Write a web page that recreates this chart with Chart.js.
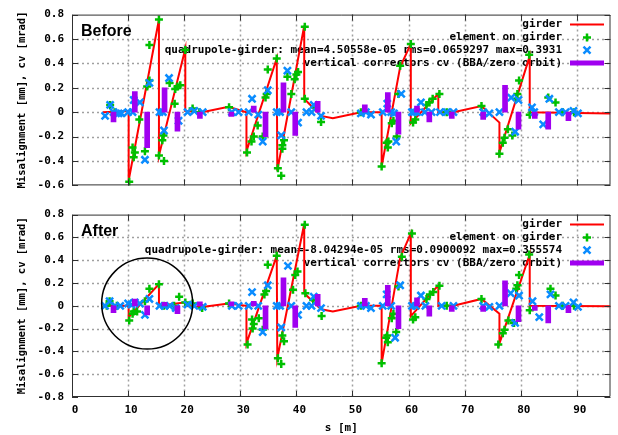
<!DOCTYPE html>
<html>
<head>
<meta charset="utf-8">
<script src="https://cdn.jsdelivr.net/npm/chart.js@4.4.1/dist/chart.umd.min.js"></script>
<style>
  html, body { margin: 0; padding: 0; background: #fff; }
  #wrap { position: relative; width: 618px; height: 435px; }
  #before { position: absolute; left: 0; top: 0; }
  #after { position: absolute; left: 0; top: 200px; }
</style>
</head>
<body>
<div id="wrap">
  <canvas id="before" width="618" height="200"></canvas>
  <canvas id="after" width="618" height="235"></canvas>
</div>
<script>
// axis ticks
const xTickValues = [0, 10, 20, 30, 40, 50, 60, 70, 80, 90];
const beforeYTicks = [-0.6, -0.4, -0.2, 0, 0.2, 0.4, 0.6, 0.8];
const afterYTicks = [-0.8, -0.6, -0.4, -0.2, 0, 0.2, 0.4, 0.6, 0.8];

// girder ends (s [m], misalignment [mm]) - before correction
const beforeGirderS = [5.5, 10.1, 10.1, 15.5, 15.5, 20.2, 20.2, 23.2, 27.9, 31.1, 31.1, 36.5, 36.6, 41.4, 41.4, 44.4, 46.5, 51.5, 55.2, 55.2, 58.5, 60.4, 60.4, 65.3, 65.3, 68.0, 73.0, 76.2, 76.2, 81.6, 81.6, 96];
const beforeGirderV = [0.0, 0.01, -0.56, 0.76, -0.355, 0.52, 0.01, 0.0, 0.045, 0.0, -0.32, 0.44, -0.48, 0.71, 0.11, -0.03, -0.05, 0.0, 0.0, -0.445, 0.37, 0.56, -0.09, 0.15, 0.0, 0.0, 0.05, -0.085, -0.33, 0.46, 0.0, -0.01];

// elements on girder
const beforeElemS = [6.8, 7.6, 10.2, 10.8, 11.2, 11.0, 12.0, 13.0, 13.4, 13.8, 13.8, 15.5, 15.5, 16.1, 16.3, 16.4, 17.4, 18.3, 18.4, 18.8, 19.3, 20.2, 21.5, 22.7, 28.0,
  31.2, 32.0, 32.4, 33.1, 34.0, 34.5, 34.7, 34.9, 36.5, 36.7, 37.3, 37.5, 37.5, 37.8, 38.4, 39.1, 39.7, 40.0, 40.3, 41.5, 41.5, 43.2, 44.4,
  51.5, 55.2, 56.1, 56.3, 56.4, 57.0, 57.3, 57.9, 58.2, 58.5, 60.4, 60.8, 61.2, 63.2, 63.7, 64.3, 65.5, 66.8,
  73.0, 76.2, 76.8, 77.1, 77.7, 78.5, 79.2, 79.4, 79.7, 81.5, 81.6, 84.9, 86.2, 87.5, 89.5];
const beforeElemV = [0.06, 0.0, -0.57, -0.29, -0.33, -0.37, -0.06, -0.32, 0.21, 0.26, 0.55, 0.76, -0.355, -0.23, -0.19, -0.40, 0.24, 0.07, 0.19, 0.21, 0.22, 0.51, 0.03, 0.0, 0.04,
  -0.33, -0.24, -0.2, -0.11, -0.2, 0.12, 0.15, 0.35, 0.44, -0.46, -0.52, -0.27, -0.3, -0.23, 0.29, 0.15, 0.27, 0.31, 0.33, 0.70, 0.11, 0.04, -0.08,
  0.0, -0.445, -0.25, -0.29, -0.24, -0.09, -0.07, -0.2, 0.15, 0.38, 0.56, -0.085, -0.06, 0.06, 0.08, 0.11, 0.15, 0.0,
  0.05, -0.34, -0.25, -0.21, -0.14, -0.19, 0.11, 0.15, 0.26, 0.47, -0.02, 0.12, 0.08, 0.0, 0.0];

// quadrupole-girder offsets
const beforeQuadS = [5.9, 6.8, 7.4, 8.3, 8.8, 10.0, 10.8, 11.0, 12.1, 13.0, 13.8, 15.6, 16.2, 16.4, 17.3, 19.0, 20.6, 21.8, 23.3, 28.5, 29.7,
  31.5, 32.1, 33.2, 34.0, 34.9, 36.5, 37.1, 37.3, 38.4, 39.1, 40.3, 41.8, 42.7, 43.1, 44.4,
  51.5, 52.4, 53.3, 55.4, 56.2, 56.9, 57.4, 57.8, 58.7, 60.6, 61.0, 61.5, 62.2, 62.9, 64.1, 65.6, 66.8, 68.0,
  73.3, 74.4, 76.2, 78.3, 79.0, 79.6, 82.0, 82.4, 84.0, 85.1, 86.8, 88.0, 89.4, 90.2];
const beforeQuadV = [-0.03, 0.06, 0.0, -0.01, -0.01, 0.0, 0.0, 0.1, 0.08, -0.39, 0.24, 0.0, 0.0, -0.15, 0.28, -0.07, 0.0, 0.01, 0.0, 0.0, 0.0,
  0.0, 0.11, -0.02, -0.24, 0.18, 0.0, 0.0, -0.19, 0.34, 0.0, -0.085, 0.0, 0.0, 0.06, -0.03,
  -0.01, 0.0, -0.02, 0.0, 0.07, 0.0, -0.01, -0.24, 0.15, 0.0, 0.0, 0.0, 0.08, 0.0, 0.0, 0.0, 0.0, 0.0,
  0.0, -0.01, 0.0, 0.12, -0.16, 0.1, 0.04, 0.0, -0.1, 0.11, 0.0, 0.0, 0.01, -0.01];

// vertical correctors (same positions before/after)
const correctorS = [7.4, 11.2, 13.4, 16.5, 18.8, 22.8, 28.4, 32.4, 34.5, 37.7, 39.8, 43.8, 52.2, 56.3, 58.2, 61.5, 63.7, 67.7, 73.3, 77.2, 79.6, 82.5, 84.9, 88.5];
const beforeCorrV = [-0.08, 0.17, -0.29, 0.2, -0.155, -0.05, -0.035, 0.05, -0.2, 0.24, -0.19, 0.09, 0.06, 0.16, -0.18, 0.05, -0.08, -0.05, -0.06, 0.22, -0.14, -0.05, -0.14, -0.07];

// after correction
const afterGirderS = [5.5, 10.1, 10.1, 15.5, 15.5, 20.2, 20.2, 23.2, 27.9, 31.1, 31.1, 36.5, 36.6, 41.4, 41.4, 44.4, 46.5, 51.5, 55.2, 55.2, 58.5, 60.4, 60.4, 65.3, 65.3, 68.0, 73.0, 76.2, 76.2, 81.6, 81.6, 96];
const afterGirderV = [0.0, 0.0, -0.1, 0.19, 0.0, 0.03, 0.0, -0.01, 0.02, 0.0, -0.33, 0.44, -0.46, 0.72, 0.11, -0.03, -0.05, 0.0, 0.0, -0.505, 0.42, 0.635, -0.09, 0.18, 0.0, 0.0, 0.06, -0.07, -0.33, 0.45, 0.0, -0.005];

const afterElemS = [6.2, 6.7, 8.0, 10.2, 10.8, 11.0, 11.6, 13.0, 13.8, 15.5, 16.4, 18.2, 19.1, 20.2, 21.5, 23.2, 28.0,
  31.3, 32.1, 32.2, 32.4, 33.3, 34.0, 34.3, 34.6, 34.9, 36.5, 36.7, 37.3, 37.5, 37.8, 39.4, 39.8, 40.2, 41.5, 41.6, 43.0, 44.5,
  51.5, 55.2, 56.0, 56.2, 56.3, 57.0, 57.3, 57.8, 58.2, 58.8, 60.6, 60.8, 61.2, 63.2, 63.8, 64.4, 65.5, 66.8,
  73.0, 76.0, 76.8, 77.1, 77.8, 78.8, 79.2, 79.4, 79.7, 81.5, 81.6, 85.3, 86.2, 87.5, 89.5];
const afterElemV = [0.0, 0.04, 0.0, -0.13, -0.07, -0.05, -0.05, 0.04, 0.15, 0.19, 0.0, 0.0, 0.08, 0.03, 0.02, -0.02, 0.02,
  -0.34, -0.12, -0.2, -0.16, -0.11, -0.21, 0.1, 0.13, 0.36, 0.44, -0.46, -0.51, -0.26, -0.31, 0.14, 0.27, 0.3, 0.71, 0.11, 0.05, -0.09,
  0.0, -0.505, -0.28, -0.26, -0.32, -0.11, -0.07, -0.23, 0.17, 0.43, 0.634, -0.12, -0.1, 0.06, 0.1, 0.12, 0.175, 0.0,
  0.06, -0.34, -0.24, -0.21, -0.13, -0.15, 0.15, 0.18, 0.27, 0.45, -0.04, 0.15, 0.09, 0.0, 0.0];

const afterQuadS = [5.9, 6.7, 7.7, 8.6, 10.0, 10.6, 11.2, 12.1, 13.0, 13.8, 15.6, 16.5, 17.4, 18.5, 20.6, 21.8, 23.3, 28.5, 29.7,
  31.5, 32.1, 33.2, 34.0, 34.9, 36.5, 37.1, 37.3, 38.5, 39.1, 40.3, 41.8, 42.7, 43.1, 44.4,
  51.5, 52.4, 53.3, 55.4, 56.1, 56.9, 57.6, 58.5, 60.6, 61.3, 62.2, 63.0, 65.9, 68.0,
  73.3, 74.4, 76.2, 78.2, 79.0, 79.7, 82.1, 83.3, 85.3, 86.8, 88.0, 89.4, 90.2];
const afterQuadV = [0.0, 0.04, 0.0, 0.0, 0.02, 0.01, 0.03, 0.02, -0.08, 0.06, 0.0, 0.0, 0.0, -0.02, 0.01, 0.0, -0.01, 0.0, 0.0,
  0.0, 0.12, 0.0, -0.23, 0.18, 0.0, 0.0, -0.19, 0.35, 0.0, -0.08, 0.0, 0.0, 0.08, -0.02,
  0.0, 0.0, -0.02, 0.0, 0.1, 0.0, -0.28, 0.18, 0.0, 0.0, 0.09, 0.0, 0.0, 0.0,
  0.0, -0.01, 0.0, 0.11, -0.15, 0.09, 0.04, -0.1, 0.1, 0.0, 0.0, 0.03, -0.01];

const afterCorrV = [-0.06, 0.06, -0.08, 0.03, -0.07, 0.035, 0.035, 0.04, -0.2, 0.245, -0.19, 0.1, 0.065, 0.18, -0.2, 0.07, -0.09, -0.05, -0.05, 0.22, -0.14, -0.04, -0.15, -0.06];

const beforeQuadLabel = 'quadrupole-girder: mean=4.50558e-05 rms=0.0659297 max=0.3931';
const afterQuadLabel = 'quadrupole-girder: mean=-8.04294e-05 rms=0.0900092 max=0.355574';

const RED = '#ff0000';
const GREEN = '#00c000';
const BLUE = '#0a8cff';
const PURPLE = '#a000f0';
const MONO = '"DejaVu Sans Mono", monospace';

function pairs(xs, ys) {
  return xs.map((x, i) => ({x: x, y: ys[i]}));
}

// grid, frame with inward ticks, key and panel label, drawn gnuplot-like
function gnuplotFrame(label, quadLabel, circle) {
  return {
    id: 'gnuplotFrame',
    beforeDatasetsDraw(chart) {
      const {ctx, chartArea: a, scales: {x, y}} = chart;
      ctx.save();
      ctx.strokeStyle = '#a0a0a0';
      ctx.lineWidth = 1.5;
      ctx.setLineDash([2, 3]);
      xTickValues.forEach((v) => {
        if (v <= x.min) return;
        const px = Math.round(x.getPixelForValue(v)) + 0.5;
        ctx.beginPath();
        ctx.moveTo(px, a.top);
        ctx.lineTo(px, a.bottom);
        ctx.stroke();
      });
      y.ticks.forEach((t) => {
        if (t.value <= y.min || t.value >= y.max) return;
        const py = Math.round(y.getPixelForValue(t.value)) + 0.5;
        ctx.beginPath();
        ctx.moveTo(a.left, py);
        ctx.lineTo(a.right, py);
        ctx.stroke();
      });
      ctx.setLineDash([]);

      // panel label
      ctx.fillStyle = '#000';
      ctx.font = 'bold 16px "Liberation Sans", Arial, sans-serif';
      ctx.textAlign = 'left';
      ctx.textBaseline = 'middle';
      ctx.fillText(label, a.left + 9, a.top + 17);

      // key
      const rows = ['girder', 'element on girder', quadLabel, 'vertical correctors cv (BBA/zero orbit)'];
      ctx.font = 'bold 11px ' + MONO;
      ctx.textAlign = 'right';
      const tx = 562;
      const sx0 = 570, sx1 = 604, sxc = 587;
      rows.forEach((txt, i) => {
        const ry = a.top + 10 + i * 12.8;
        ctx.fillStyle = '#000';
        ctx.fillText(txt, tx, ry);
        if (i === 0) {
          ctx.strokeStyle = RED;
          ctx.lineWidth = 2;
          ctx.beginPath();
          ctx.moveTo(sx0, ry);
          ctx.lineTo(sx1, ry);
          ctx.stroke();
        } else if (i === 1) {
          ctx.strokeStyle = GREEN;
          ctx.lineWidth = 2.5;
          ctx.beginPath();
          ctx.moveTo(sxc - 4, ry);
          ctx.lineTo(sxc + 4, ry);
          ctx.moveTo(sxc, ry - 4);
          ctx.lineTo(sxc, ry + 4);
          ctx.stroke();
        } else if (i === 2) {
          ctx.strokeStyle = BLUE;
          ctx.lineWidth = 2.5;
          ctx.beginPath();
          ctx.moveTo(sxc - 3.5, ry - 3.5);
          ctx.lineTo(sxc + 3.5, ry + 3.5);
          ctx.moveTo(sxc + 3.5, ry - 3.5);
          ctx.lineTo(sxc - 3.5, ry + 3.5);
          ctx.stroke();
        } else {
          ctx.fillStyle = PURPLE;
          ctx.fillRect(sx0, ry - 2.5, sx1 - sx0, 5);
        }
      });
      ctx.restore();
    },
    afterDatasetsDraw(chart) {
      const {ctx, chartArea: a, scales: {x, y}} = chart;
      ctx.save();
      ctx.strokeStyle = '#303030';
      ctx.lineWidth = 1;
      ctx.beginPath();
      ctx.rect(a.left + 0.5, a.top + 0.5, a.right - a.left - 1, a.bottom - a.top - 1);
      ctx.stroke();
      const tl = 6;
      ctx.beginPath();
      xTickValues.forEach((v) => {
        const px = Math.round(x.getPixelForValue(v)) + 0.5;
        ctx.moveTo(px, a.bottom);
        ctx.lineTo(px, a.bottom - tl);
        ctx.moveTo(px, a.top);
        ctx.lineTo(px, a.top + tl);
      });
      y.ticks.forEach((t) => {
        const py = Math.round(y.getPixelForValue(t.value)) + 0.5;
        ctx.moveTo(a.left, py);
        ctx.lineTo(a.left + tl, py);
        ctx.moveTo(a.right, py);
        ctx.lineTo(a.right - tl, py);
      });
      ctx.stroke();

      if (circle) {
        ctx.strokeStyle = '#000';
        ctx.lineWidth = 1.5;
        ctx.beginPath();
        ctx.arc(x.getPixelForValue(circle.s), y.getPixelForValue(circle.v), circle.r, 0, Math.PI * 2);
        ctx.stroke();
      }
      ctx.restore();
    },
  };
}

function makeChart(canvasId, opts) {
  const showX = opts.showXLabels;
  return new Chart(document.getElementById(canvasId), {
    type: 'scatter',
    data: {
      datasets: [
        {
          type: 'line',
          label: 'girder',
          data: pairs(opts.girderS, opts.girderV),
          borderColor: RED,
          borderWidth: 2,
          pointRadius: 0,
          tension: 0,
          order: 4,
        },
        {
          label: 'element on girder',
          data: pairs(opts.elemS, opts.elemV),
          pointStyle: 'cross',
          pointRadius: 4,
          borderColor: GREEN,
          backgroundColor: GREEN,
          borderWidth: 2.5,
          order: 3,
        },
        {
          label: opts.quadLabel,
          data: pairs(opts.quadS, opts.quadV),
          pointStyle: 'crossRot',
          pointRadius: 5,
          borderColor: BLUE,
          backgroundColor: BLUE,
          borderWidth: 2.5,
          order: 2,
        },
        {
          type: 'bar',
          label: 'vertical correctors cv (BBA/zero orbit)',
          data: pairs(correctorS, opts.corrV),
          backgroundColor: PURPLE,
          borderWidth: 0,
          barThickness: 5,
          grouped: false,
          order: 1,
        },
      ],
    },
    options: {
      responsive: false,
      animation: false,
      layout: {padding: {top: opts.padTop, right: 2, left: 0, bottom: 0}},
      plugins: {legend: {display: false}, tooltip: {enabled: false}},
      scales: {
        x: {
          type: 'linear',
          min: 0,
          max: 96,
          offset: false,
          grid: {display: false, drawTicks: false},
          border: {display: false},
          afterBuildTicks: (scale) => {
            scale.ticks = xTickValues.map((v) => ({value: v}));
          },
          afterFit: (scale) => {
            scale.height = opts.xHeight;
          },
          ticks: {
            display: showX,
            padding: 7,
            labelOffset: 3,
            maxRotation: 0,
            color: '#000',
            font: {family: MONO, size: 11, weight: 'bold'},
          },
          title: {
            display: showX,
            text: 's [m]',
            color: '#000',
            padding: 0,
            font: {family: MONO, size: 11, weight: 'bold'},
          },
        },
        y: {
          type: 'linear',
          min: opts.yTicks[0],
          max: opts.yTicks[opts.yTicks.length - 1],
          grid: {display: false, drawTicks: false},
          border: {display: false},
          afterBuildTicks: (scale) => {
            scale.ticks = opts.yTicks.map((v) => ({value: v}));
          },
          afterFit: (scale) => {
            scale.width = 72;
          },
          ticks: {
            padding: 8,
            color: '#000',
            font: {family: MONO, size: 11, weight: 'bold'},
            callback: (v) => (Math.abs(v) < 1e-9 ? '0' : Number(v).toFixed(1)),
          },
          title: {
            display: true,
            text: 'Misalignment [mm], cv [mrad]',
            color: '#000',
            padding: {top: 16, bottom: 0},
            font: {family: MONO, size: 10.5, weight: 'bold'},
          },
        },
      },
    },
    plugins: [gnuplotFrame(opts.label, opts.quadLabel, opts.circle)],
  });
}

makeChart('before', {
  label: 'Before',
  quadLabel: beforeQuadLabel,
  girderS: beforeGirderS, girderV: beforeGirderV,
  elemS: beforeElemS, elemV: beforeElemV,
  quadS: beforeQuadS, quadV: beforeQuadV,
  corrV: beforeCorrV,
  yTicks: beforeYTicks,
  padTop: 10,
  xHeight: 8,
  showXLabels: false,
  circle: null,
});

makeChart('after', {
  label: 'After',
  quadLabel: afterQuadLabel,
  girderS: afterGirderS, girderV: afterGirderV,
  elemS: afterElemS, elemV: afterElemV,
  quadS: afterQuadS, quadV: afterQuadV,
  corrV: afterCorrV,
  yTicks: afterYTicks,
  padTop: 14,
  xHeight: 38,
  showXLabels: true,
  circle: {s: 13.4, v: 0.02, r: 45.5},
});
</script>
</body>
</html>
